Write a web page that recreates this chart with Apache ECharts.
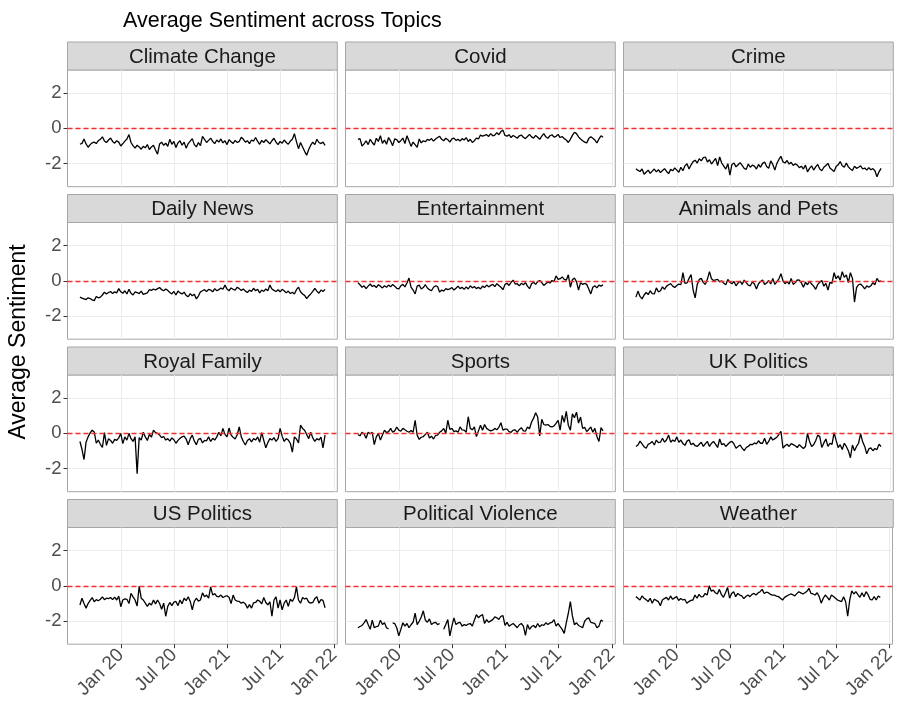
<!DOCTYPE html>
<html>
<head>
<meta charset="utf-8">
<script src="https://cdn.jsdelivr.net/npm/echarts@6/dist/echarts.min.js"></script>
<style>
  html, body { margin: 0; padding: 0; background: #ffffff; }
  #chart { width: 898px; height: 707px; }
</style>
</head>
<body>
<div id="chart"></div>
<script>
// Weekly average sentiment per topic, Aug 2019 - Dec 2021
const firstWeek = '2019-08-14';
const weekCount = 121;

const topics = [
  'Climate Change', 'Covid', 'Crime',
  'Daily News', 'Entertainment', 'Animals and Pets',
  'Royal Family', 'Sports', 'UK Politics',
  'US Politics', 'Political Violence', 'Weather'
];

const xTickValues = [0, 0.5, 1, 1.5, 2];          // years since Jan 2020
const xTickLabels = ['Jan 20', 'Jul 20', 'Jan 21', 'Jul 21', 'Jan 22'];
const yTickValues = [-2, 0, 2];

const climateChange = [
  -0.90, -0.85, -0.60, -0.88, -1.07, -0.92, -0.82, -0.78, -0.86, -0.70,
  -0.62, -0.48, -0.72, -0.80, -0.66, -0.55, -0.74, -0.84, -0.70, -0.78,
  -1.00, -0.86, -0.72, -0.60, -0.35, -0.80, -0.98, -1.12, -0.95, -1.05,
  -1.18, -1.02, -1.10, -0.92, -1.20, -1.05, -0.96, -1.22, -1.46, -0.88,
  -0.78, -0.96, -0.84, -1.02, -0.62, -0.90, -0.74, -1.08, -0.82, -0.70,
  -0.95, -0.78, -1.12, -0.86, -0.72, -0.58, -0.92, -1.05, -0.80, -0.98,
  -0.45, -0.62, -0.80, -0.68, -0.55, -0.74, -0.86, -0.66, -0.78, -0.60,
  -0.82, -0.70, -0.92, -0.64, -0.76, -0.85, -0.68, -0.80, -0.74, -0.50,
  -0.62, -0.78, -0.70, -0.86, -0.66, -0.72, -0.52, -0.74, -0.90, -0.68,
  -0.80, -0.64, -0.76, -0.88, -0.70, -0.56, -0.78, -0.92, -0.74, -0.84,
  -0.66, -0.80, -0.90, -0.72, -0.62, -0.30, -0.75, -1.15, -0.80, -1.05,
  -1.30, -1.52, -1.20, -0.95, -0.78, -0.92, -0.62, -0.80, -0.86, -0.78, -0.96
];

const covid = [
  -0.62, -0.58, -1.00, -0.88, -0.70, -0.92, -0.62, -0.80, -0.95, -0.56,
  -0.74, -0.42, -0.85, -0.66, -0.90, -0.52, -0.72, -0.98, -0.60, -0.64,
  -0.80, -0.70, -0.55, -0.86, -0.42, -0.72, -1.02, -0.78, -0.92, -1.08,
  -0.60, -0.82, -0.70, -0.76, -0.62, -0.68, -0.58, -0.72, -0.60, -0.52,
  -0.45, -0.62, -0.70, -0.56, -0.64, -0.78, -0.60, -0.55, -0.68, -0.62,
  -0.72, -0.58, -0.66, -0.52, -0.74, -0.62, -0.80, -0.70, -0.55, -0.60,
  -0.38, -0.44, -0.40, -0.36, -0.46, -0.30, -0.42, -0.38, -0.24, -0.36,
  -0.18, -0.10, -0.40, -0.44, -0.36, -0.52, -0.40, -0.48, -0.56, -0.42,
  -0.38, -0.50, -0.58, -0.46, -0.34, -0.48, -0.55, -0.40, -0.50, -0.62,
  -0.44, -0.30, -0.48, -0.56, -0.42, -0.36, -0.50, -0.45, -0.34, -0.52,
  -0.46, -0.58, -0.66, -0.80, -0.62, -0.40, -0.22, -0.30, -0.48, -0.60,
  -0.70, -0.78, -0.82, -0.58, -0.48, -0.56, -0.66, -0.82, -0.60, -0.42, -0.50
];

const crime = [
  -2.28, -2.38, -2.44, -2.30, -2.60, -2.48, -2.36, -2.55, -2.42, -2.30,
  -2.46, -2.34, -2.50, -2.38, -2.28, -2.44, -2.56, -2.32, -2.40, -2.24,
  -2.36, -2.48, -2.20, -2.40, -2.12, -2.00, -2.30, -2.06, -1.88, -1.80,
  -1.96, -1.72, -1.84, -1.66, -1.62, -1.90, -1.78, -2.02, -1.86, -1.70,
  -2.10, -1.62, -1.96, -2.14, -2.30, -2.00, -2.64, -2.04, -1.96, -2.18,
  -2.06, -1.94, -2.10, -2.26, -2.32, -2.02, -2.20, -2.08, -2.14, -2.30,
  -2.04, -2.20, -1.98, -1.90, -2.16, -2.26, -1.84, -2.04, -2.36, -1.98,
  -1.76, -1.58, -1.90, -1.96, -1.82, -2.02, -1.92, -2.10, -2.00, -2.08,
  -2.22, -2.14, -2.30, -2.08, -2.46, -2.26, -2.12, -2.36, -2.18, -2.04,
  -2.30, -2.40, -2.20, -2.10, -1.98, -2.24, -2.34, -2.44, -2.16, -2.06,
  -1.88, -2.12, -2.20, -1.96, -2.18, -2.30, -2.38, -2.14, -2.26, -2.20,
  -2.12, -2.30, -2.24, -2.36, -2.22, -2.34, -2.28, -2.40, -2.74, -2.46, -2.26
];

const dailyNews = [
  -0.92, -0.98, -1.02, -1.06, -0.96, -1.00, -1.08, -1.12, -0.88, -0.96,
  -0.92, -0.80, -0.64, -0.74, -0.66, -0.60, -0.72, -0.62, -0.68, -0.44,
  -0.62, -0.70, -0.56, -0.74, -0.48, -0.70, -0.80, -0.62, -0.66, -0.72,
  -0.58, -0.76, -0.72, -0.68, -0.50, -0.54, -0.46, -0.52, -0.44, -0.38,
  -0.50, -0.56, -0.46, -0.54, -0.66, -0.74, -0.60, -0.80, -0.58, -0.68,
  -0.74, -0.64, -0.82, -0.90, -0.72, -0.84, -0.76, -1.02, -0.86, -0.62,
  -0.56, -0.50, -0.60, -0.48, -0.52, -0.62, -0.44, -0.56, -0.50, -0.40,
  -0.48, -0.24, -0.46, -0.56, -0.40, -0.48, -0.52, -0.36, -0.44, -0.54,
  -0.46, -0.58, -0.66, -0.52, -0.60, -0.42, -0.56, -0.48, -0.68, -0.52,
  -0.60, -0.46, -0.56, -0.24, -0.46, -0.54, -0.60, -0.50, -0.62, -0.48,
  -0.56, -0.68, -0.58, -0.72, -0.64, -0.74, -0.50, -0.36, -0.62, -0.74,
  -0.82, -1.00, -0.86, -0.74, -0.60, -0.42, -0.58, -0.70, -0.52, -0.60, -0.48
];

const entertainment = [
  -0.10, -0.22, -0.36, -0.28, -0.44, -0.30, -0.18, -0.32, -0.26, -0.38,
  -0.22, -0.30, -0.40, -0.28, -0.36, -0.24, -0.34, -0.20, -0.30, -0.42,
  -0.46, -0.28, -0.20, -0.34, -0.12, 0.16, -0.36, -0.52, -0.74, -0.30,
  -0.24, -0.46, -0.38, -0.22, -0.40, -0.50, -0.56, -0.36, -0.28, -0.32,
  -0.64, -0.52, -0.58, -0.44, -0.50, -0.46, -0.38, -0.52, -0.42, -0.30,
  -0.44, -0.36, -0.48, -0.34, -0.46, -0.28, -0.40, -0.32, -0.44, -0.36,
  -0.46, -0.30, -0.38, -0.24, -0.34, -0.26, -0.20, -0.32, -0.16, -0.26,
  -0.36, -0.50, -0.20, -0.14, -0.26, -0.08, 0.04, -0.18, -0.16, -0.28,
  -0.14, -0.22, -0.10, -0.30, -0.44, -0.16, -0.08, -0.20, -0.04, 0.02,
  -0.10, -0.26, -0.16, -0.06, -0.12, 0.02, -0.04, 0.28, 0.08, 0.12,
  0.22, 0.08, 0.04, 0.34, -0.36, 0.06, 0.16, -0.04, -0.52, -0.10,
  -0.20, -0.14, -0.20, -0.46, -0.74, -0.36, -0.28, -0.40, -0.24, -0.30, -0.22
];

const animalsAndPets = [
  -0.92, -0.58, -0.88, -1.02, -0.80, -0.66, -0.78, -0.56, -0.72, -0.74,
  -0.40, -0.62, -0.56, -0.34, -0.48, -0.30, -0.22, -0.16, -0.30, -0.38,
  -0.26, -0.18, -0.22, 0.46, -0.14, -0.12, 0.14, 0.36, -0.52, -0.96,
  -0.20, 0.08, 0.14, -0.10, -0.20, 0.10, 0.52, 0.12, 0.02, 0.06,
  0.08, -0.06, 0.00, -0.14, -0.22, 0.08, -0.08, -0.16, -0.04, -0.28,
  -0.12, -0.02, -0.20, 0.04, -0.10, -0.24, -0.28, -0.06, -0.18, -0.46,
  -0.16, -0.04, 0.04, -0.20, -0.12, 0.02, -0.18, 0.14, -0.20, -0.06,
  0.12, 0.40, 0.00, -0.16, -0.04, -0.18, 0.14, -0.20, -0.10, 0.06,
  0.04, -0.12, -0.36, -0.08, -0.22, -0.02, -0.18, -0.30, -0.48, -0.20,
  -0.08, 0.02, -0.30, -0.14, -0.52, -0.08, -0.14, 0.46, 0.12, 0.28,
  0.04, 0.52, 0.20, 0.34, -0.10, 0.46, 0.14, -1.20, -0.38, -0.22,
  -0.18, -0.30, -0.46, -0.28, -0.36, -0.28, -0.10, -0.22, 0.14, -0.04, 0.00
];

const royalFamily = [
  -0.46, -0.90, -1.48, -0.50, -0.20, 0.02, 0.18, 0.08, -0.56, -0.38,
  -0.62, -0.80, 0.04, -0.68, -0.30, -0.40, -0.56, -0.34, -0.40, -0.26,
  0.00, -0.58, -0.20, -0.38, 0.00, -0.30, -0.46, -0.20, -2.28, -0.24,
  -0.38, 0.06, -0.20, -0.40, -0.06, -0.22, 0.18, 0.04, 0.00, -0.10,
  -0.24, -0.18, -0.38, -0.30, -0.44, -0.26, -0.36, -0.56, -0.40, -0.28,
  -0.20, -0.16, -0.32, -0.64, -0.30, -0.10, -0.44, -0.64, -0.34, -0.28,
  -0.54, -0.40, -0.42, -0.20, -0.46, -0.28, -0.38, -0.20, 0.06, -0.14,
  0.28, -0.06, -0.20, 0.30, -0.10, -0.22, -0.32, -0.08, 0.36, -0.20,
  -0.46, -0.66, -0.40, -0.30, -0.48, -0.30, -0.38, -0.20, -0.50, 0.04,
  -0.40, -0.82, -0.52, -0.30, -0.38, -0.24, -0.46, -0.30, 0.28, -0.16,
  -0.46, -0.30, -0.38, -0.56, -1.06, -0.20, -0.32, -0.54, 0.46, 0.28,
  0.18, -0.06, -0.30, 0.06, -0.26, -0.46, -0.30, -0.38, -0.22, -0.82, -0.10
];

const sports = [
  -0.06, -0.14, 0.06, -0.04, -0.28, 0.06, -0.02, 0.06, -0.64, -0.20,
  0.00, -0.38, -0.10, 0.18, 0.04, 0.10, 0.28, 0.06, 0.14, 0.36,
  0.18, 0.12, 0.28, 0.20, 0.12, 0.06, 0.16, 0.06, 0.74, -0.10,
  -0.34, -0.22, -0.18, -0.06, 0.06, -0.26, -0.16, -0.32, -0.12, -0.10,
  0.06, 0.14, 0.28, 0.00, 0.74, 0.22, 0.28, 0.10, 0.14, 0.06,
  0.36, 0.20, 0.18, 0.06, 0.94, 0.28, 0.20, 0.36, -0.18, 0.14,
  0.46, 0.18, 0.50, 0.28, 0.20, 0.14, 0.18, 0.28, 0.20, 0.34,
  0.60, 0.18, 0.24, 0.24, 0.10, 0.06, 0.18, 0.20, 0.06, 0.22,
  0.32, 0.14, 0.12, 0.36, 0.26, 0.64, 0.86, 1.16, 0.92, -0.14,
  0.80, 0.50, 0.46, 0.50, 0.40, 0.36, 0.42, 0.56, 0.74, 0.18,
  1.02, 0.62, 1.24, 0.46, 0.18, 1.10, 0.88, 1.20, 0.58, 0.92,
  0.28, 0.34, 0.10, 0.22, 0.36, 0.06, 0.28, -0.18, -0.46, 0.32, 0.14
];

const ukPolitics = [
  -0.74, -0.66, -0.44, -0.60, -0.76, -0.84, -0.62, -0.56, -0.46, -0.66,
  -0.38, -0.52, -0.50, -0.28, -0.50, -0.36, -0.10, -0.50, -0.38, -0.46,
  -0.20, -0.50, -0.38, -0.58, -0.68, -0.44, -0.36, -0.64, -0.56, -0.70,
  -0.74, -0.62, -0.50, -0.74, -0.58, -0.46, -0.74, -0.56, -0.46, -0.62,
  -0.80, -0.32, -0.64, -0.58, -0.74, -0.62, -0.50, -0.46, -0.60, -0.84,
  -0.74, -0.66, -0.84, -0.98, -0.80, -0.74, -0.62, -0.64, -0.54, -0.60,
  -0.42, -0.56, -0.56, -0.28, -0.62, -0.46, -0.20, -0.38, -0.30, -0.22,
  -0.06, 0.12, -0.84, -0.70, -0.62, -0.74, -0.58, -0.64, -0.70, -0.80,
  -0.64, -0.76, -0.86, -0.74, 0.00, -0.46, -0.74, -0.64, -0.42, -0.10,
  -0.18, -0.80, -0.54, -0.32, -0.74, -0.56, -0.62, 0.04, -0.40, -0.80,
  -0.64, -0.92, -0.56, -0.74, -0.98, -1.38, -0.66, -0.98, -0.74, -0.56,
  -0.02, -0.48, -0.74, -1.16, -0.88, -0.82, -0.98, -0.86, -0.92, -0.62, -0.74
];

const usPolitics = [
  -1.08, -0.70, -1.00, -1.26, -1.00, -0.82, -0.66, -0.90, -0.78, -0.84,
  -0.76, -0.62, -0.78, -0.70, -0.72, -0.66, -0.78, -0.64, -0.80, -0.58,
  -1.18, -0.80, -0.74, -0.76, -1.00, -0.42, -0.62, -0.80, -1.14, -0.02,
  -0.70, -0.80, -0.98, -1.16, -0.98, -1.08, -0.80, -1.02, -0.80, -1.00,
  -1.32, -0.98, -1.72, -1.16, -0.94, -1.12, -0.92, -0.88, -1.12, -0.80,
  -1.02, -0.70, -0.84, -0.62, -0.88, -1.36, -0.88, -0.70, -0.86, -0.80,
  -0.40, -0.62, -0.52, -0.70, -0.06, -0.52, -0.44, -0.60, -0.62, -0.52,
  -0.66, -0.60, -0.56, -0.64, -1.00, -0.52, -0.80, -0.86, -0.88, -0.98,
  -0.92, -1.02, -1.26, -1.06, -1.26, -0.96, -0.94, -0.80, -0.86, -1.02,
  -0.66, -0.94, -1.08, -0.90, -1.72, -0.80, -0.62, -1.26, -0.80, -1.36,
  -0.98, -0.80, -1.16, -0.76, -0.88, -0.66, -0.06, -0.80, -0.98, -0.66,
  -0.74, -0.70, -0.92, -0.98, -0.94, -0.72, -0.62, -0.98, -0.78, -0.82, -1.24
];

// null marks weeks without data
const politicalViolence = [
  -2.37, -2.30, -2.24, -2.09, -1.91, -2.19, -2.46, -1.94, -2.37, -2.30,
  -2.28, -1.94, -2.19, -2.09, -2.37, -2.43, null, -2.09, -2.13, -2.37,
  -2.83, -2.46, -2.09, -2.28, -2.13, -2.37, -2.20, -2.06, -1.54, -2.19,
  -2.00, -1.76, -1.41, -1.94, -2.06, -1.87, -2.19, -2.10, -2.06, -2.19,
  -2.13, null, -2.46, -2.19, -1.91, -2.83, -2.28, -1.81, -2.19, -2.10,
  -2.06, -2.28, -2.19, -2.24, -2.16, -2.13, -2.28, -1.94, -1.63, -1.80,
  -1.69, -1.63, -2.13, -1.91, -2.06, -1.98, -1.91, -1.76, -1.81, -1.90,
  -1.72, -1.69, -2.24, -2.06, -2.28, -2.20, -2.13, -2.24, -2.37, -2.20,
  -2.13, -2.28, -2.80, -2.19, -2.46, -2.30, -2.24, -2.37, -2.13, -2.32,
  -2.20, -2.24, -2.09, -2.19, -2.10, -2.06, -1.91, -2.28, -2.13, -2.30,
  -2.46, -2.69, -2.10, -1.55, -0.89, -1.70, -2.20, -2.09, -2.24, -2.30,
  -2.37, -2.00, -1.87, -1.81, -2.06, -2.10, -2.13, -2.37, -2.28, -1.94, -2.00
];

const weather = [
  -0.61, -0.70, -0.80, -0.57, -0.70, -0.78, -0.89, -0.70, -0.98, -0.76,
  -0.82, -0.89, -1.13, -0.80, -0.72, -0.65, -0.80, -0.57, -0.76, -0.68,
  -0.61, -0.83, -0.72, -0.80, -0.76, -0.98, -0.89, -0.82, -0.80, -0.52,
  -0.70, -0.48, -0.62, -0.61, -0.43, -0.52, 0.00, -0.30, -0.24, -0.39,
  -0.46, -0.20, -0.50, -0.65, -0.39, -0.09, -0.70, -0.43, -0.33, -0.61,
  -0.43, -0.52, -0.57, -0.72, -0.60, -0.52, -0.61, -0.48, -0.43, -0.52,
  -0.40, -0.33, -0.20, -0.43, -0.36, -0.39, -0.48, -0.52, -0.52, -0.58,
  -0.61, -0.70, -0.80, -0.65, -0.58, -0.52, -0.46, -0.50, -0.57, -0.44,
  -0.33, -0.40, -0.46, -0.39, -0.30, -0.15, -0.43, -0.46, -0.52, -0.39,
  -0.61, -0.98, -0.70, -0.52, -0.65, -0.80, -0.52, -0.60, -0.70, -0.80,
  -0.85, -0.89, -0.61, -0.90, -1.72, -0.80, -0.28, -0.46, -0.33, -0.50,
  -0.65, -0.39, -0.61, -0.33, -0.50, -0.76, -0.80, -0.61, -0.80, -0.57, -0.66
];

const topicValues = [
  climateChange, covid, crime,
  dailyNews, entertainment, animalsAndPets,
  royalFamily, sports, ukPolitics,
  usPolitics, politicalViolence, weather
];

// Week positions expressed in years since 1 Jan 2020
const DAY = 86400000;
const YEAR = 365.25 * DAY;
const origin = Date.UTC(2020, 0, 1);
const start = Date.parse(firstWeek + 'T00:00:00Z');
const weekPos = [];
for (let i = 0; i < weekCount; i++) {
  weekPos.push((start + i * 7 * DAY - origin) / YEAR);
}
const pad = 0.05 * (weekPos[weekCount - 1] - weekPos[0]);
const xMin = -0.5;
const xMax = weekPos[weekCount - 1] + pad;

// Facet layout
const colLeft = [67.5, 345.5, 623.5];
const panelW = 269.8;
const stripTop = [42, 194.5, 347, 499.5];
const stripH = 28;
const plotH = 116.7;

const FONT = '"Liberation Sans", Arial, Helvetica, sans-serif';
const gridColor = '#EBEBEB';
const frameColor = '#A6A6A6';

const grids = [], xAxes = [], yAxes = [], series = [], graphics = [];

topics.forEach((name, k) => {
  const r = Math.floor(k / 3), c = k % 3;
  grids.push({
    left: colLeft[c], top: stripTop[r] + stripH, width: panelW, height: plotH,
    show: true, borderColor: frameColor, borderWidth: 1, backgroundColor: '#ffffff'
  });
  xAxes.push({
    type: 'value', gridIndex: k, min: xMin, max: xMax, interval: 0.25,
    position: 'bottom',
    axisLine: { show: false, onZero: false },
    axisTick: { show: r === 3, customValues: xTickValues, length: 4, lineStyle: { color: '#333333' } },
    axisLabel: {
      show: r === 3, customValues: xTickValues, rotate: 45, margin: 8,
      fontSize: 19, color: '#4D4D4D', fontFamily: FONT,
      formatter: v => {
        const j = xTickValues.findIndex(t => Math.abs(t - v) < 1e-6);
        return j >= 0 ? xTickLabels[j] : '';
      }
    },
    splitLine: { show: true, lineStyle: { color: gridColor, width: 1 } }
  });
  yAxes.push({
    type: 'value', gridIndex: k, min: -3.3, max: 3.3, splitNumber: 6,
    position: 'left',
    axisLine: { show: false, onZero: false },
    axisTick: { show: c === 0, customValues: yTickValues, length: 4, lineStyle: { color: '#333333' } },
    axisLabel: {
      show: c === 0, customValues: yTickValues, margin: 6,
      fontSize: 18.5, color: '#4D4D4D', fontFamily: FONT,
      formatter: v => String(v)
    },
    splitLine: { show: true, lineStyle: { color: gridColor, width: 1 } }
  });
  series.push({
    type: 'line', name: name, xAxisIndex: k, yAxisIndex: k,
    data: weekPos.map((x, i) => [x, topicValues[k][i]]),
    showSymbol: false, connectNulls: false, silent: true,
    lineStyle: { color: '#000000', width: 1.3 },
    z: 3,
    markLine: {
      silent: true, symbol: ['none', 'none'], label: { show: false },
      lineStyle: { color: '#F23030', type: [5, 3], width: 1.4 },
      data: [{ yAxis: 0 }]
    }
  });
  // facet strip
  graphics.push({
    type: 'rect', silent: true,
    shape: { x: colLeft[c], y: stripTop[r], width: panelW, height: stripH },
    style: { fill: '#D9D9D9', stroke: frameColor, lineWidth: 1 }
  });
  graphics.push({
    type: 'text', silent: true,
    x: colLeft[c] + panelW / 2, y: stripTop[r] + stripH / 2 + 1,
    style: {
      text: name, fill: '#1A1A1A', font: '20.5px ' + FONT,
      textAlign: 'center', textVerticalAlign: 'middle', align: 'center', verticalAlign: 'middle'
    }
  });
});

// y axis title
graphics.push({
  type: 'text', silent: true, x: 19, y: 342, rotation: Math.PI / 2,
  style: {
    text: 'Average Sentiment', fill: '#000000', font: '23px ' + FONT,
    textAlign: 'center', textVerticalAlign: 'middle', align: 'center', verticalAlign: 'middle'
  }
});

const chart = echarts.init(document.getElementById('chart'), null, { renderer: 'canvas' });
chart.setOption({
  animation: false,
  backgroundColor: '#ffffff',
  textStyle: { fontFamily: FONT },
  title: {
    text: 'Average Sentiment across Topics', left: 118, top: 5,
    textStyle: { fontSize: 21.5, fontWeight: 'normal', color: '#000000', fontFamily: FONT }
  },
  grid: grids,
  xAxis: xAxes,
  yAxis: yAxes,
  series: series,
  graphic: { elements: graphics }
});
</script>
</body>
</html>
